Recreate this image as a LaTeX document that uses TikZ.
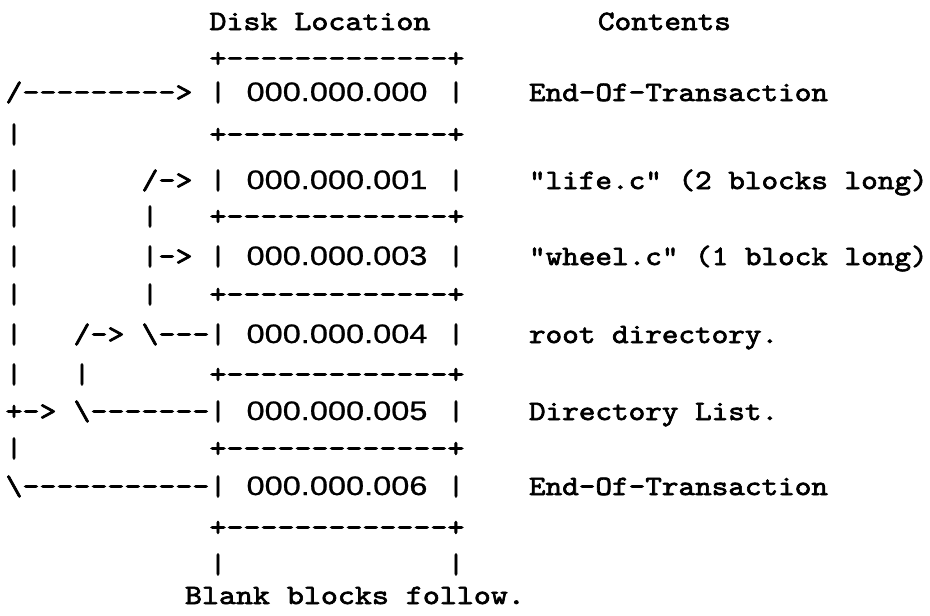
\documentclass[tikz,border=0pt]{standalone}
\usepackage{fontspec}
% typewriter face for the character-drawn table and the notes
\newfontfamily\gridfont{lmmono10-regular.otf}[FakeStretch=1.156,FakeBold=2.4,Ligatures=TeXOff]
\newfontfamily\notefont{lmmono10-regular.otf}[FakeStretch=1.13,FakeBold=2.4,Ligatures=TeXOff]
% sans face for the block addresses
\newfontfamily\addrfont{Liberation Sans}[FakeStretch=1.22,FakeBold=0.8]

% left edge of character cell number #1 on the fixed-pitch grid
\newcommand\cx[1]{{5.5+17*#1}}

\tikzset{
  grid/.style={anchor=base west, inner sep=0pt, outer sep=0pt,
               font=\gridfont\fontsize{21pt}{21pt}\selectfont},
  note/.style={anchor=base west, inner sep=0pt, outer sep=0pt,
               font=\notefont\fontsize{21pt}{21pt}\selectfont},
  addr/.style={anchor=base, inner sep=0pt, outer sep=0pt,
               font=\addrfont\fontsize{20pt}{20pt}\selectfont},
}

\begin{document}
\begin{tikzpicture}[x=0.75pt,y=-0.75pt]
\useasboundingbox (0,0) rectangle (930,615);

% column headings
\node[grid] (hdisk) at (\cx{12},30) {Disk Location};
\node[note] (hcont) at (598,30) {Contents};

% horizontal block borders
\foreach \n/\y in {1/67,3/143,5/225,7/303,9/383,11/457,13/536}
  \node[grid] (sep\n) at (\cx{12},\y) {+-------------+};

% block rows: side bars and addresses
\foreach \n/\y/\a in {2/101/000.000.000, 4/189/000.000.001, 6/265/000.000.003,
                      8/343/000.000.004, 10/420/000.000.005, 12/495/000.000.006} {
  \node[grid] (lbar\n) at (\cx{12},\y) {|};
  \node[addr] (addr\n) at (337,\y) {\a};
  \node[grid] (rbar\n) at (\cx{26},\y) {|};
}

% open end of the block list
\node[grid] (lbar14) at (\cx{12},573) {|};
\node[grid] (rbar14) at (\cx{26},573) {|};
\node[grid] (blank) at (185,604) {Blank blocks follow.};

% pointer chains drawn with characters
\node[grid] (p2a) at (\cx{0},101) {/--------->};
\node[grid] (p3a) at (\cx{0},143) {|};
\node[grid] (p4a) at (\cx{0},189) {|};
\node[grid] (p4b) at (\cx{8},189) {/->};
\node[grid] (p5a) at (\cx{0},225) {|};
\node[grid] (p5b) at (\cx{8},225) {|};
\node[grid] (p6a) at (\cx{0},265) {|};
\node[grid] (p6b) at (\cx{8},265) {|->};
\node[grid] (p7a) at (\cx{0},303) {|};
\node[grid] (p7b) at (\cx{8},303) {|};
\node[grid] (p8a) at (\cx{0},343) {|};
\node[grid] (p8b) at (\cx{4},343) {/->};
\node[grid] (p8c) at (\cx{8},343) {\textbackslash---};
\node[grid] (p9a) at (\cx{0},383) {|};
\node[grid] (p9b) at (\cx{4},383) {|};
\node[grid] (p10a) at (\cx{0},420) {+->};
\node[grid] (p10b) at (\cx{4},420) {\textbackslash-------};
\node[grid] (p11a) at (\cx{0},457) {|};
\node[grid] (p12a) at (\cx{0},495) {\textbackslash-----------};

% contents of each block
\node[note] (c2) at (529,101) {End-Of-Transaction};
\node[note] (c4) at (529,189) {"life.c" (2 blocks long)};
\node[note] (c6) at (529,265) {"wheel.c" (1 block long)};
\node[note] (c8) at (529,343) {root directory.};
\node[note] (c10) at (529,420) {Directory List.};
\node[note] (c12) at (529,495) {End-Of-Transaction};
\end{tikzpicture}
\end{document}
